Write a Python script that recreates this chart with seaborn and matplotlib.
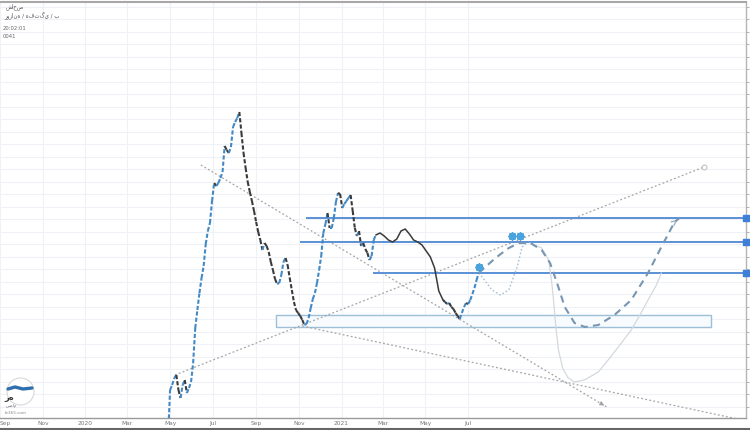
import matplotlib
matplotlib.use("Agg")
import matplotlib.pyplot as plt
import matplotlib.dates as mdates
from matplotlib.collections import LineCollection
from matplotlib.patches import Rectangle
from matplotlib.lines import Line2D
from matplotlib.ticker import MultipleLocator
import numpy as np
import pandas as pd
import seaborn as sns

# closes, one every 3 days
price_a_start = "2020-04-28"
price_a = [-22, 28, 33, 40, 43, 28, 20, 33, 38, 25,
           30, 36, 55, 90, 108, 125, 140, 152, 174, 187,
           195, 217, 235, 232, 235, 240, 246, 272, 268, 265,
           271, 291, 296, 300, 306, 285, 265, 250, 236, 226,
           217, 207, 196, 186, 178, 168, 175, 172, 166, 156,
           148, 139, 134, 135, 143, 156, 160, 153, 140, 128,
           116, 108, 105, 102, 98, 93, 94, 100, 110, 119,
           125, 135, 148, 162, 185, 194, 205, 190, 190, 200,
           216, 225, 224, 210, 214, 217, 220, 223, 207, 190,
           182, 187, 172, 175, 169, 165, 158, 162, 178, 183]

# smooth section (every 6 days)
swing_start = "2021-02-19"
swing_line = [183, 185, 182, 178, 176, 179, 187, 189, 184, 178, 176, 173, 167, 161, 150, 127, 118]

price_b_start = "2021-05-26"
price_b = [118, 116, 114, 115, 111, 109, 105, 102, 99, 105, 111, 115, 114, 118, 124, 130, 138, 145]

# projected path (dashed)
proj_dates = ["2021-07-16", "2021-07-24", "2021-08-09", "2021-08-28", "2021-09-12", "2021-09-28",
              "2021-10-14", "2021-10-26", "2021-11-05", "2021-11-16", "2021-11-30", "2021-12-15",
              "2022-01-03", "2022-01-26", "2022-02-19", "2022-03-15", "2022-04-03", "2022-04-22",
              "2022-04-29"]
proj_values = [145, 150, 160, 170, 175, 175, 168, 155, 135, 111, 95, 91, 93, 103, 118, 145, 171, 196, 200]

# alternative paths
alt1_dates = ["2021-07-16", "2021-07-21", "2021-08-04", "2021-08-16", "2021-08-28", "2021-09-09",
              "2021-09-16", "2021-09-23"]
alt1_values = [145, 141, 128, 123, 128, 151, 171, 175]
alt2_dates = ["2021-09-27", "2021-10-14", "2021-10-24", "2021-10-28", "2021-10-31", "2021-11-03",
              "2021-11-07", "2021-11-13", "2021-11-21", "2021-11-30", "2021-12-14", "2022-01-03",
              "2022-01-17", "2022-02-05", "2022-02-19", "2022-03-05", "2022-03-15", "2022-03-27",
              "2022-04-03"]
alt2_values = [175, 170, 158, 138, 118, 93, 68, 50, 40, 36, 38, 46, 58, 75, 88, 105, 118, 133, 145]

# horizontal levels
level_values = [200, 176, 145]
level_starts = ["2020-11-11", "2020-11-02", "2021-02-15"]

# support zone
zone_dates = ["2020-09-29", "2022-06-13"]
zone_values = [91, 103]

# dotted trend lines: (start date, start value, end date, end value)
trend_starts = ["2020-06-14", "2020-05-08", "2020-11-06"]
trend_start_values = [253, 43, 92]
trend_ends = ["2022-01-15", "2022-06-03", "2022-08-10"]
trend_end_values = [11, 251, -4]

# markers
star_dates = ["2021-07-17", "2021-09-01", "2021-09-13"]
star_values = [151, 182, 182]

tick_dates = pd.date_range("2019-09-01", "2021-07-01", freq="2MS")
tick_labels = ["Sep", "Nov", "2020", "Mar", "May", "Jul", "Sep", "Nov", "2021", "Mar", "May", "Jul"]

x_min, x_max = pd.Timestamp("2019-09-07"), pd.Timestamp("2022-08-02")

sns.set_style("white")
plt.rcParams['font.family'] = ['DejaVu Sans']

fig = plt.figure(figsize=(7.5, 4.3), dpi=100)
ax = fig.add_axes([0, 12 / 430, 746 / 750, 416.5 / 430])

up_col, down_col = "#4289c6", "#3a3a3a"


def draw_candles(values, start):
    dates = pd.date_range(start, periods=len(values), freq="3D")
    xs = mdates.date2num(dates)
    segs, cols = [], []
    for i in range(1, len(values)):
        segs.append([(xs[i - 1], values[i - 1]), (xs[i], values[i])])
        cols.append(up_col if values[i] >= values[i - 1] else down_col)
    lc = LineCollection(segs, colors=cols, linewidths=1.5, linestyles=[(0, (2.0, 1.0))],
                        capstyle="butt", zorder=4)
    ax.add_collection(lc)


# zone
z0, z1 = mdates.date2num(pd.to_datetime(zone_dates))
ax.add_patch(Rectangle((z0, zone_values[0]), z1 - z0, zone_values[1] - zone_values[0],
                       facecolor="#f8fbfd", edgecolor="#9dbfd8", lw=1.0, zorder=2))

# dotted trend lines
for i in range(3):
    xs = pd.to_datetime([trend_starts[i], trend_ends[i]])
    ax.plot(xs, [trend_start_values[i], trend_end_values[i]], color="#a5a5a5", lw=0.9,
            linestyle=(0, (1.5, 1.8)), zorder=2)
# arrow at end of first trend line, circle at end of second
a_end = pd.Timestamp(trend_ends[0])
a_prev = a_end - pd.Timedelta(days=12)
slope = (trend_end_values[0] - trend_start_values[0]) / (a_end - pd.Timestamp(trend_starts[0])).days
ax.annotate("", xy=(a_end, trend_end_values[0]), xytext=(a_prev, trend_end_values[0] - slope * 12),
            arrowprops=dict(arrowstyle="-|>", color="#a5a5a5", lw=0.8, mutation_scale=6))
ax.plot(pd.Timestamp(trend_ends[1]), trend_end_values[1], marker="o", ms=3.5, mfc="white",
        mec="#c2c2c2", mew=0.8, zorder=3)

# levels
lx = mdates.date2num(pd.to_datetime(level_starts))
ax.hlines(level_values, lx, mdates.date2num(x_max), colors="#5b90d6", lw=1.4, zorder=3)
ax.scatter([x_max] * 3, level_values, marker="s", s=18, color="#3f7fd8", clip_on=False, zorder=6)

# price
draw_candles(price_a, price_a_start)
swing_dates = pd.date_range(swing_start, periods=len(swing_line), freq="6D")
sns.lineplot(x=swing_dates, y=swing_line, color="#3a3a3a", lw=1.1, ax=ax, zorder=4)
draw_candles(price_b, price_b_start)

# projections
sns.lineplot(x=pd.to_datetime(alt1_dates), y=alt1_values, color="#a9c1d6", lw=1.0,
             linestyle=(0, (1.2, 1.5)), ax=ax, zorder=3)
sns.lineplot(x=pd.to_datetime(alt2_dates), y=alt2_values, color="#d3d9de", lw=0.9, ax=ax, zorder=3)
pd_proj = pd.to_datetime(proj_dates)
sns.lineplot(x=pd_proj, y=proj_values, color="#7896b2", lw=1.5, linestyle=(0, (3.5, 2.5)), ax=ax, zorder=4)
ax.annotate("", xy=(pd_proj[-1], proj_values[-1]), xytext=(pd_proj[-2], proj_values[-2]),
            arrowprops=dict(arrowstyle="->", color="#9bb3c8", lw=1.0, mutation_scale=8))

ax.scatter(pd.to_datetime(star_dates), star_values, marker=(8, 2, 0), s=22, lw=1.4,
           color="#4aa3dc", zorder=6)

# axes styling
ax.set_xlim(x_min, x_max)
ax.set_ylim(0, 416.5)
ax.set_xticks(tick_dates)
ax.set_xticklabels(tick_labels)
ax.get_xticklabels()[0].set_horizontalalignment("left")
ax.yaxis.set_major_locator(MultipleLocator(12.5, offset=11.3))
ax.yaxis.tick_right()
ax.tick_params(axis="y", labelright=False, length=2.5, color="#b0b0b0", width=0.7, direction="out")
ax.tick_params(axis="x", length=0, pad=2.5, labelsize=4.2, labelcolor="#777777")
ax.grid(True, color="#eef1f5", lw=0.8)
ax.set_xlabel("")
ax.set_ylabel("")
ax.spines["left"].set_visible(False)
ax.spines["top"].set_color("#a8a8a8")
ax.spines["top"].set_linewidth(1.5)
ax.spines["bottom"].set_color("#9a9a9a")
ax.spines["bottom"].set_linewidth(1.0)
ax.spines["right"].set_color("#b5b5b5")
ax.spines["right"].set_linewidth(1.0)

# header texts
fig.text(6 / 750, 1 - 7 / 430, "شاخص", fontsize=4, color="#555555", va="center")
fig.text(4 / 750, 1 - 15 / 430, "روزانه / هفتگی / ب", fontsize=4, color="#555555", va="center")
fig.text(3 / 750, 1 - 29 / 430, "20:02:01", fontsize=3.8, color="#666666", va="center")
fig.text(3 / 750, 1 - 37 / 430, "0041", fontsize=3.8, color="#666666", va="center")

# logo
ax.scatter([20 / 750], [1 - 391 / 430], s=380, marker="o", facecolor="white", edgecolor="#d8d8d8",
           lw=0.8, transform=fig.transFigure, clip_on=False, zorder=7)
ax.plot([8 / 750, 15 / 750, 23 / 750, 32 / 750], [1 - 389 / 430, 1 - 387 / 430, 1 - 389 / 430, 1 - 388 / 430],
        color="#2f6fb0", lw=2.4, transform=fig.transFigure, clip_on=False, zorder=8)
fig.text(4 / 750, 1 - 398 / 430, "ره", fontsize=6, color="#333333", va="center", fontweight="bold")
fig.text(6 / 750, 1 - 406 / 430, "سهام", fontsize=3.2, color="#666666", va="center")
fig.text(5 / 750, 1 - 413 / 430, "fx365.com", fontsize=3, color="#888888", va="center")

fig.add_artist(Line2D([0, 1], [1.5 / 430, 1.5 / 430], transform=fig.transFigure, color="#666666", lw=1.5))

fig.savefig("out.png", dpi=100)
